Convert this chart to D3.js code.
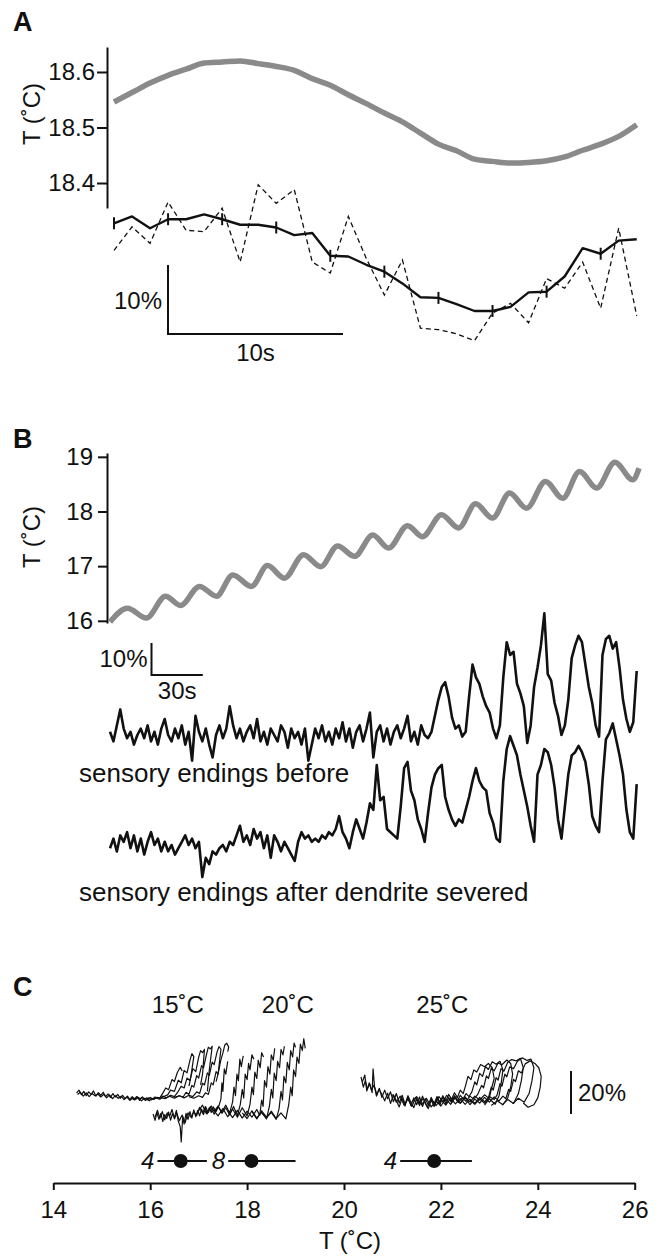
<!DOCTYPE html>
<html>
<head>
<meta charset="utf-8">
<script src="https://cdn.jsdelivr.net/npm/d3@7"></script>
<style>
  body { margin: 0; background: #fff; }
  svg { display: block; font-family: "Liberation Sans", Arial, sans-serif; }
  .axis path, .axis line { stroke: #111; stroke-width: 2; }
  .axis text { font-size: 24px; fill: #111; font-family: "Liberation Sans", Arial, sans-serif; }
  .lbl { font-size: 24px; fill: #111; }
  .panel { font-size: 27px; font-weight: bold; fill: #111; }
</style>
</head>
<body>
<svg id="fig" width="661" height="1257"></svg>
<script>
// ---------- panel A : one oscillation, 1 sample / 1.03 s ----------
const sampleA = 1.03;
const tempA = [18.546, 18.563, 18.580, 18.594, 18.605, 18.616, 18.618, 18.620, 18.615, 18.610,
  18.603, 18.588, 18.576, 18.559, 18.543, 18.526, 18.510, 18.490, 18.470, 18.458,
  18.443, 18.439, 18.436, 18.437, 18.440, 18.447, 18.459, 18.470, 18.484, 18.505];
// dF/F (%) mean trace and single trial
const meanA = [12.7, 13.7, 12.0, 13.3, 13.3, 14.0, 13.3, 12.5, 12.5, 12.1,
  11.0, 11.3, 8.0, 7.9, 6.7, 5.7, 4.0, 2.0, 1.9, 1.0,
  0.0, 0.0, 0.6, 2.7, 2.8, 5.0, 9.1, 8.3, 10.2, 10.4];
const trialA = [8.8, 12.2, 9.8, 15.8, 11.7, 11.5, 14.9, 7.1, 18.3, 15.6,
  17.6, 7.1, 5.5, 13.7, 7.6, 2.3, 7.4, -2.5, -2.7, -3.3,
  -4.3, -0.3, 1.1, -1.7, 4.7, 3.3, 7.1, 0.4, 12.0, -0.7];
const markedA = [0, 3, 6, 9, 12, 15, 18, 21, 24, 27];
const ticksA = [18.4, 18.5, 18.6];

// ---------- panel B : slow ramp with 20 s oscillations ----------
const timeB = [0, 10.2, 21.3, 32.5, 41.2, 52.4, 62.3, 71.8, 82.7, 92.1,
  102.0, 113.2, 123.2, 133.1, 143.0, 153.7, 162.9, 174.0, 182.7, 193.9,
  203.9, 213.8, 223.7, 233.7, 243.6, 254.7, 264.7, 274.6, 284.6, 295.3, 305.7, 309.4];
const tempB = [15.98, 16.23, 16.05, 16.45, 16.28, 16.63, 16.45, 16.84, 16.63, 17.01,
  16.78, 17.21, 16.99, 17.37, 17.18, 17.57, 17.33, 17.74, 17.54, 17.94,
  17.70, 18.14, 17.88, 18.34, 18.06, 18.55, 18.24, 18.73, 18.43, 18.90, 18.58, 18.79];
const ticksB = [16, 17, 18, 19];
const sampleB = 2; // s per sample of the dF/F traces
const beforeB = [1,-2,3,8,2,-1,1,-3,0,2, -1,3,-2,1,-3,2,5,0,-2,2, -1,3,-3,1,-8,6,1,-2,2,-3,
  -7,0,3,-1,2,9,3,-1,2,-2, 1,3,-1,5,-2,1,-3,2,0,-2, 3,1,-4,2,-1,1,-3,2,-8,-3,
  2,-1,3,-2,1,-3,2,-1,4,-2, 2,-4,1,3,-2,2,7,-7,1,3, -2,2,-3,1,3,-1,2,6,-2,1, -3,3,0,-1,
  1,6,11,15,16.5,12,5.5,2,3,-0.5, 1,12,22,18,16,12,9,7,2,-1, 3,18,29,25,26,16,13,9,-2.5,
  3,15,21,28,38,19,17,10,6,0, 3,11,24,28,31,29,22,15,10,3,-0.5, 25,30,31,27,29,21,11,5,1,4,20];
const afterB = [-1,2,-2,3,1,4,-1,3,-2,2, -3,1,4,0,2,-2,1,-2,0,-3, -1,1,3,0,2,-1,1,-10,-4,-6,
  -2,-3,-1,0,-2,1,0,3,6,1, 3,0,5,2,4,-1,3,-4,3,1, -2,1,-1,-3,-5,1,4,2,3,1,
  2,1,3,2,4,3,5,9,4,2, -1,4,8,5,2,7,
  13,11,25,14,15,5,4,3,2,12, 24,26,17,14,8,5,1,10,18,22, 24,25,15,11,8,6,8,7,11,15,
  20,24,20,18,17,10,7,2,1,20, 30,34,31,28,22,17,12,6,1,22, 25,30,29,25,18,8,2,12,22,28,
  29,31,29,26,19,9,6,4,20,33, 35,38,33,28,22,11,4,2,19];

// ---------- panel C : dF/F (%) against temperature ----------
const ticksC = [14, 16, 18, 20, 22, 24, 26];
const holdLabels = ["15˚C", "20˚C", "25˚C"];
const meanC = [16.63, 18.09, 21.86];
const lowC = [16.15, 17.61, 21.16];
const highC = [17.17, 19.0, 22.64];
const nC = [4, 8, 4];

const traces15 = [
  [[14.48,3.2],[14.53,4.6],[14.58,2.4],[14.63,4.0],[14.68,2.0],[14.73,3.8],[14.78,2.6],[14.83,4.2],[14.88,1.8],[14.93,3.4],[14.98,2.2],[15.03,3.6],[15.08,1.6],[15.13,2.8],[15.18,1.2],[15.23,3.0],[15.28,1.4],[15.33,2.6],[15.38,0.8],[15.43,2.2],[15.48,0.6],[15.53,1.8],[15.58,0.2],[15.63,1.6],[15.68,0.0],[15.73,1.4],[15.78,-0.2],[15.83,1.2],[15.88,0.2],[15.93,1.0],[15.98,-0.4],[16.03,0.8],[16.08,0.4],[16.13,1.2],[16.2,1.0],[16.26,3.2],[16.32,5.6],[16.38,4.8],[16.45,9.5],[16.5,8.6],[16.56,12.8],[16.62,15.2],[16.66,13.5]],
  [[14.5,2.6],[14.56,3.6],[14.62,1.8],[14.68,3.3],[14.74,1.6],[14.8,3.0],[14.86,2.0],[14.92,2.8],[14.98,1.4],[15.04,2.6],[15.1,1.0],[15.16,2.4],[15.22,0.6],[15.28,2.0],[15.34,0.8],[15.4,1.8],[15.46,0.2],[15.52,1.4],[15.58,-0.2],[15.64,1.0],[15.7,0.4],[15.76,1.2],[15.82,-0.4],[15.88,0.8],[15.94,0.0],[16.0,1.2],[16.06,0.2],[16.12,1.0],[16.2,0.4],[16.28,1.6],[16.36,2.4],[16.42,4.6],[16.5,4.0],[16.58,9.2],[16.64,8.0],[16.7,13.8],[16.76,12.6],[16.82,18.4],[16.86,21.6],[16.9,20.2],[16.84,11.0],[16.8,6.5]],
  [[15.6,1.2],[15.66,0.2],[15.72,1.6],[15.78,0.4],[15.84,1.4],[15.9,-0.2],[15.96,1.0],[16.02,0.0],[16.1,1.4],[16.18,0.6],[16.26,1.8],[16.34,1.0],[16.42,2.2],[16.5,1.6],[16.56,3.4],[16.64,6.4],[16.7,5.6],[16.76,10.2],[16.82,9.0],[16.88,14.6],[16.94,13.2],[17.0,19.8],[17.04,23.0],[17.08,22.0],[17.12,23.6],[17.08,12.0],[17.04,7.0]],
  [[16.2,1.4],[16.3,0.6],[16.4,1.8],[16.5,0.8],[16.6,2.0],[16.68,1.4],[16.74,3.6],[16.8,2.6],[16.86,6.8],[16.9,6.0],[16.96,11.4],[17.0,10.2],[17.06,16.0],[17.1,15.0],[17.16,21.0],[17.2,24.6],[17.24,23.8],[17.28,25.0],[17.22,14.0],[17.18,4.0]],
  [[16.5,1.2],[16.6,2.0],[16.7,1.0],[16.8,2.2],[16.88,1.6],[16.96,3.8],[17.02,3.0],[17.08,7.8],[17.12,7.0],[17.18,12.6],[17.22,11.4],[17.28,17.6],[17.32,16.4],[17.38,22.4],[17.42,24.8],[17.46,23.6],[17.4,12.0],[17.36,8.5]],
  [[16.8,1.6],[16.9,0.8],[17.0,2.0],[17.08,1.2],[17.14,3.4],[17.2,2.6],[17.26,8.0],[17.3,7.0],[17.36,13.2],[17.4,12.0],[17.46,18.8],[17.5,21.8],[17.54,25.6],[17.58,26.4],[17.62,24.6],[17.6,22.5]]
];
const traces20 = [
  [[16.06,-6.5],[16.1,-9.5],[16.14,-5.8],[16.18,-9.0],[16.22,-6.2],[16.26,-10.0],[16.3,-6.8],[16.34,-8.6],[16.38,-5.6],[16.42,-9.4],[16.46,-6.4],[16.5,-8.2],[16.54,-4.8],[16.58,-9.8],[16.62,-12.5],[16.64,-19.5],[16.67,-8.0],[16.7,-11.2],[16.74,-6.2],[16.78,-9.0],[16.82,-5.4],[16.86,-8.4],[16.9,-4.6],[16.94,-7.8],[16.98,-4.8],[17.02,-7.4],[17.06,-4.2],[17.1,-6.8],[17.14,-3.8],[17.18,-6.4],[17.22,-3.6],[17.26,-5.8],[17.3,-3.2],[17.36,-5.4],[17.42,-2.6],[17.46,0.5],[17.48,8.0],[17.5,4.0],[17.53,14.5],[17.56,12.0],[17.6,18.0]],
  [[16.1,-8.0],[16.15,-4.8],[16.2,-8.4],[16.25,-5.4],[16.3,-9.2],[16.35,-6.0],[16.4,-7.6],[16.45,-4.4],[16.5,-8.8],[16.55,-6.2],[16.6,-9.6],[16.66,-7.0],[16.72,-10.6],[16.78,-6.0],[16.84,-8.0],[16.9,-5.6],[16.96,-7.2],[17.02,-3.4],[17.08,-6.2],[17.14,-3.0],[17.2,-5.8],[17.26,-2.8],[17.32,-5.2],[17.4,-3.0],[17.48,-5.6],[17.56,-2.4],[17.64,-6.0],[17.7,-1.0],[17.73,6.0],[17.76,2.0],[17.79,12.0],[17.82,9.0],[17.85,19.0],[17.88,15.5],[17.92,20.5]],
  [[17.0,-5.0],[17.08,-2.4],[17.16,-6.4],[17.24,-3.2],[17.32,-6.6],[17.4,-2.8],[17.48,-6.2],[17.56,-3.6],[17.64,-7.0],[17.72,-3.0],[17.8,-7.2],[17.86,-2.0],[17.9,5.0],[17.93,1.0],[17.96,12.0],[18.0,9.5],[18.03,17.0],[18.06,14.0],[18.1,21.0],[18.14,19.0]],
  [[17.3,-4.6],[17.4,-7.4],[17.5,-4.0],[17.6,-7.8],[17.7,-4.2],[17.8,-8.0],[17.9,-3.6],[18.0,-7.4],[18.06,-2.0],[18.1,6.0],[18.13,2.5],[18.16,13.0],[18.2,10.0],[18.23,18.5],[18.27,15.0],[18.3,22.0],[18.34,20.0]],
  [[17.6,-5.0],[17.7,-8.2],[17.8,-4.8],[17.9,-8.4],[18.0,-5.2],[18.1,-8.0],[18.2,-4.4],[18.26,-7.2],[18.3,0.0],[18.33,-3.0],[18.36,9.0],[18.4,6.0],[18.43,15.5],[18.47,12.0],[18.5,21.0],[18.54,18.5],[18.57,24.0]],
  [[17.9,-6.0],[18.0,-8.6],[18.1,-5.0],[18.2,-8.4],[18.3,-5.6],[18.4,-8.8],[18.46,-3.0],[18.5,5.0],[18.53,1.0],[18.56,12.5],[18.6,9.0],[18.63,18.0],[18.67,15.0],[18.7,23.5],[18.74,21.0],[18.77,25.0]],
  [[18.1,-5.4],[18.2,-8.8],[18.3,-5.0],[18.4,-8.0],[18.5,-5.8],[18.6,-9.0],[18.66,-4.0],[18.7,4.0],[18.73,0.0],[18.76,11.0],[18.8,8.0],[18.83,17.5],[18.87,14.0],[18.9,23.0],[18.94,20.0],[18.97,26.5],[19.0,24.5]],
  [[18.3,-6.0],[18.4,-8.4],[18.5,-5.2],[18.6,-8.6],[18.7,-6.0],[18.8,-8.8],[18.86,-2.0],[18.9,6.0],[18.93,2.0],[18.96,14.0],[19.0,11.0],[19.03,20.0],[19.07,17.0],[19.1,26.0],[19.14,23.0],[19.17,28.5],[19.2,24.0]]
];
const traces25 = [
  [[20.35,10.8],[20.4,6.0],[20.44,9.0],[20.48,5.0],[20.53,7.5],[20.58,3.4],[20.6,14.5],[20.63,6.2],[20.68,2.4],[20.73,5.4],[20.78,1.2],[20.84,4.6],[20.9,0.6],[20.96,3.8],[21.02,-0.8],[21.08,3.0],[21.14,-1.4],[21.2,2.2],[21.26,-2.0],[21.32,1.6],[21.38,-2.6],[21.44,1.0],[21.5,-2.2],[21.56,1.4],[21.62,-3.0],[21.68,0.6],[21.74,-2.4],[21.8,1.2],[21.86,-1.8],[21.92,1.6],[21.98,-1.2],[22.04,2.0],[22.1,-0.6],[22.16,2.6],[22.22,0.4],[22.28,3.4],[22.34,1.2],[22.4,4.6],[22.46,3.0],[22.5,6.0],[22.56,11.0],[22.62,9.5],[22.68,14.0],[22.74,13.0],[22.82,16.5],[22.9,15.5],[22.98,17.0],[23.06,15.0],[23.1,10.0],[23.04,5.0],[23.0,1.0],[22.9,-1.5],[22.8,0.5],[22.7,-2.0],[22.6,0.0]],
  [[20.38,8.5],[20.43,11.6],[20.47,4.2],[20.52,8.0],[20.57,4.6],[20.62,7.0],[20.67,1.8],[20.72,5.0],[20.78,2.8],[20.84,-0.4],[20.9,3.2],[20.96,-1.6],[21.02,2.4],[21.08,-0.2],[21.14,-3.2],[21.2,0.8],[21.26,-2.8],[21.32,2.0],[21.38,-1.0],[21.44,-3.6],[21.5,0.4],[21.56,-2.6],[21.62,1.8],[21.68,-1.6],[21.74,-4.0],[21.8,0.0],[21.86,-3.0],[21.92,0.8],[21.98,-2.2],[22.04,1.4],[22.1,-1.8],[22.16,1.0],[22.22,-1.2],[22.28,2.0],[22.34,-0.4],[22.4,2.2],[22.46,0.6],[22.52,3.0],[22.58,1.6],[22.64,3.8],[22.7,8.4],[22.74,7.0],[22.8,12.4],[22.86,11.0],[22.92,15.6],[22.98,14.2],[23.06,17.8],[23.14,16.6],[23.22,18.0],[23.28,14.0],[23.24,7.0],[23.2,2.0],[23.12,-2.0],[23.0,0.6],[22.9,-2.4]],
  [[21.0,2.6],[21.08,-1.0],[21.16,1.8],[21.24,-2.4],[21.32,0.4],[21.4,-3.0],[21.48,1.2],[21.56,-1.6],[21.64,0.8],[21.72,-3.4],[21.8,0.2],[21.88,-2.0],[21.96,1.6],[22.04,-0.8],[22.12,2.2],[22.2,-0.4],[22.28,1.4],[22.36,-1.2],[22.44,1.0],[22.52,-0.6],[22.6,1.8],[22.68,0.4],[22.76,2.6],[22.84,6.8],[22.88,5.6],[22.94,11.2],[22.98,10.0],[23.04,14.8],[23.1,13.6],[23.18,17.2],[23.26,16.4],[23.36,18.6],[23.44,17.0],[23.48,12.0],[23.44,6.0],[23.38,1.0],[23.28,-2.2],[23.16,-0.4],[23.04,-2.6]],
  [[21.4,-1.0],[21.5,1.6],[21.6,-2.2],[21.7,0.8],[21.8,-3.2],[21.9,-0.4],[22.0,-2.8],[22.1,0.6],[22.2,-2.0],[22.3,1.2],[22.4,-1.4],[22.5,1.4],[22.6,-1.0],[22.7,1.8],[22.8,0.0],[22.9,2.4],[22.98,1.0],[23.04,6.0],[23.08,4.6],[23.14,10.4],[23.18,9.2],[23.24,14.6],[23.3,13.4],[23.38,17.6],[23.46,18.8],[23.56,18.2],[23.64,19.4],[23.7,15.0],[23.66,9.0],[23.6,3.0],[23.5,-1.6],[23.38,0.2],[23.26,-2.4]],
  [[21.8,0.4],[21.9,-2.6],[22.0,0.2],[22.1,-2.4],[22.2,0.8],[22.3,-1.8],[22.4,0.6],[22.5,-2.0],[22.6,0.4],[22.7,-1.6],[22.8,1.2],[22.9,-0.8],[23.0,1.6],[23.1,0.2],[23.16,2.4],[23.22,7.6],[23.26,6.4],[23.32,12.0],[23.36,10.8],[23.42,15.4],[23.5,14.6],[23.58,18.0],[23.68,19.6],[23.78,18.4],[23.86,19.0],[23.92,15.0],[23.88,9.0],[23.82,3.0],[23.72,-1.0],[23.6,0.8],[23.48,-1.8]],
  [[22.2,-0.6],[22.3,1.4],[22.4,-1.6],[22.5,1.0],[22.6,-2.2],[22.7,0.4],[22.8,-1.4],[22.9,1.2],[23.0,-1.0],[23.1,1.4],[23.2,-0.4],[23.28,1.8],[23.34,0.6],[23.4,5.0],[23.44,4.0],[23.5,9.6],[23.54,8.6],[23.6,13.6],[23.66,12.6],[23.74,16.8],[23.84,18.2],[23.94,17.0],[24.02,15.0],[24.07,11.0],[24.05,6.0],[24.0,1.0],[23.92,-2.2],[23.8,-3.4],[23.7,-1.4]]
];

const ink = '#111';
const grey = '#8a8a8a';
const svg = d3.select('#fig');

// panel letters
[['A', 31], ['B', 448], ['C', 996]].forEach(p => {
  svg.append('text').attr('class', 'panel').attr('x', 13).attr('y', p[1]).text(p[0]);
});

// helper: rotated y label
function yLabel(x, y, txt) {
  svg.append('text').attr('class', 'lbl')
    .attr('transform', `translate(${x},${y}) rotate(-90)`)
    .attr('text-anchor', 'middle').text(txt);
}

// ===================== A =====================
const xA = d3.scaleLinear().domain([0, 30]).range([114, 639]);
const yTA = d3.scaleLinear().domain([18.355, 18.645]).range([208, 47]);
const yFA = d3.scaleLinear().domain([0, 10]).range([311, 242]);

svg.append('g').attr('class', 'axis').attr('transform', 'translate(107,0)')
  .call(d3.axisLeft(yTA).tickValues(ticksA).tickFormat(d3.format('.1f'))
    .tickSize(10).tickSizeOuter(0).tickPadding(2));
yLabel(40, 114, 'T (˚C)');

svg.append('path')
  .attr('d', d3.line().x((d, i) => xA(i * sampleA)).y(d => yTA(d)).curve(d3.curveMonotoneX)(tempA))
  .attr('fill', 'none').attr('stroke', grey).attr('stroke-width', 5.5);

svg.append('path')
  .attr('d', d3.line().x((d, i) => xA(i * sampleA)).y(d => yFA(d))(trialA))
  .attr('fill', 'none').attr('stroke', ink).attr('stroke-width', 1.3).attr('stroke-dasharray', '5,3.5');

svg.append('path')
  .attr('d', d3.line().x((d, i) => xA(i * sampleA)).y(d => yFA(d))(meanA))
  .attr('fill', 'none').attr('stroke', ink).attr('stroke-width', 2.4).attr('stroke-linejoin', 'round');

svg.selectAll('.markA').data(markedA).enter().append('line')
  .attr('x1', i => xA(i * sampleA)).attr('x2', i => xA(i * sampleA))
  .attr('y1', i => yFA(meanA[i]) - 6).attr('y2', i => yFA(meanA[i]) + 6)
  .attr('stroke', ink).attr('stroke-width', 2);

// scale bar A
{
  const x0 = 168, yb = 334;
  const h = yFA(0) - yFA(10), w = xA(10) - xA(0);
  svg.append('path').attr('d', `M${x0},${yb - h}V${yb}H${x0 + w}`)
    .attr('fill', 'none').attr('stroke', ink).attr('stroke-width', 2);
  svg.append('text').attr('class', 'lbl').attr('x', x0 - 6).attr('y', yb - h / 2 + 9)
    .attr('text-anchor', 'end').text('10%');
  svg.append('text').attr('class', 'lbl').attr('x', x0 + w / 2).attr('y', yb + 27)
    .attr('text-anchor', 'middle').text('10s');
}

// ===================== B =====================
const xB = d3.scaleLinear().domain([0, 300]).range([110, 623]);
const yTB = d3.scaleLinear().domain([15.96, 19.07]).range([623, 453]);
const yBefore = d3.scaleLinear().domain([0, 10]).range([735, 703]);
const yAfter = d3.scaleLinear().domain([0, 10]).range([845, 813]);

svg.append('g').attr('class', 'axis').attr('transform', 'translate(107,0)')
  .call(d3.axisLeft(yTB).tickValues(ticksB).tickFormat(d3.format('d'))
    .tickSize(9).tickSizeOuter(0).tickPadding(5));
yLabel(40, 537, 'T (˚C)');

svg.append('path')
  .attr('d', d3.line().x((d, i) => xB(timeB[i])).y(d => yTB(d)).curve(d3.curveMonotoneX)(tempB))
  .attr('fill', 'none').attr('stroke', grey).attr('stroke-width', 5.5);

[[beforeB, yBefore], [afterB, yAfter]].forEach(([vals, ys]) => {
  svg.append('path')
    .attr('d', d3.line().x((d, i) => xB(i * sampleB)).y(d => ys(d))(vals))
    .attr('fill', 'none').attr('stroke', ink).attr('stroke-width', 2.6).attr('stroke-linejoin', 'round');
});

// scale bar B
{
  const x0 = 151.5, yb = 675;
  const h = yBefore(0) - yBefore(10), w = xB(30) - xB(0);
  svg.append('path').attr('d', `M${x0},${yb - h}V${yb}H${x0 + w}`)
    .attr('fill', 'none').attr('stroke', ink).attr('stroke-width', 2);
  svg.append('text').attr('class', 'lbl').attr('x', x0 - 4).attr('y', yb - h / 2 + 8)
    .attr('text-anchor', 'end').text('10%');
  svg.append('text').attr('class', 'lbl').attr('x', x0 + w / 2).attr('y', yb + 24)
    .attr('text-anchor', 'middle').text('30s');
}
svg.append('text').attr('class', 'lbl').style('font-size', '26px')
  .attr('x', 79).attr('y', 782).text('sensory endings before');
svg.append('text').attr('class', 'lbl').style('font-size', '26px')
  .attr('x', 79).attr('y', 901).text('sensory endings after dendrite severed');

// ===================== C =====================
const xC = d3.scaleLinear().domain([14, 26]).range([53.3, 634.7]);
const yC = d3.scaleLinear().domain([0, 20]).range([1100, 1057]);

svg.append('g').attr('class', 'axis').attr('transform', 'translate(0,1183)')
  .call(d3.axisBottom(xC).tickValues(ticksC).tickSize(7).tickSizeOuter(0).tickPadding(11));
svg.append('text').attr('class', 'lbl').attr('x', 350).attr('y', 1249)
  .attr('text-anchor', 'middle').text('T (˚C)');

const lineC = d3.line().x(d => xC(d[0])).y(d => yC(d[1]));
svg.append('g').selectAll('path').data([...traces15, ...traces20, ...traces25]).enter()
  .append('path').attr('d', lineC)
  .attr('fill', 'none').attr('stroke', ink).attr('stroke-width', 1.2).attr('stroke-linejoin', 'round');

[16.57, 18.84, 22.03].forEach((t, i) => {
  svg.append('text').attr('class', 'lbl').attr('x', xC(t)).attr('y', 1013)
    .attr('text-anchor', 'middle').text(holdLabels[i]);
});

// thresholds
const rowY = 1161;
meanC.forEach((m, i) => {
  svg.append('line').attr('x1', xC(lowC[i])).attr('x2', xC(highC[i]))
    .attr('y1', rowY).attr('y2', rowY).attr('stroke', ink).attr('stroke-width', 2.2);
  svg.append('circle').attr('cx', xC(m)).attr('cy', rowY).attr('r', 7).attr('fill', ink);
  svg.append('text').attr('class', 'lbl').style('font-style', 'italic')
    .attr('x', xC(lowC[i]) - 3).attr('y', rowY + 8).attr('text-anchor', 'end').text(nC[i]);
});

// scale bar C
{
  const x0 = 571, yb = 1114;
  const h = yC(0) - yC(20);
  svg.append('line').attr('x1', x0).attr('x2', x0).attr('y1', yb - h).attr('y2', yb)
    .attr('stroke', ink).attr('stroke-width', 2);
  svg.append('text').attr('class', 'lbl').attr('x', x0 + 7).attr('y', yb - h / 2 + 8).text('20%');
}
</script>
</body>
</html>
